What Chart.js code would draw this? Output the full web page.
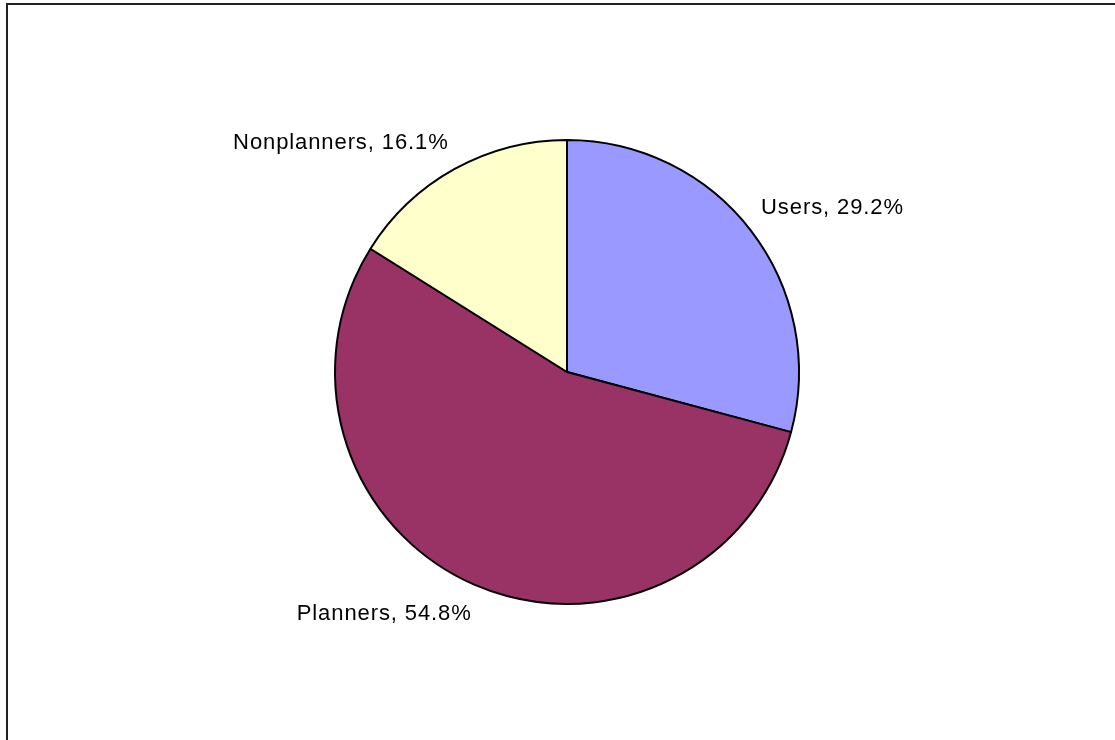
<!DOCTYPE html>
<html>
<head>
<meta charset="utf-8">
<script src="https://cdn.jsdelivr.net/npm/chart.js@4"></script>
<style>
  html, body { margin: 0; padding: 0; background: #fff; }
  #wrap { width: 1115px; height: 740px; position: relative; }
</style>
</head>
<body>
<div id="wrap"><canvas id="chart" width="1115" height="740"></canvas></div>
<script>
// data
const categories = ['Users', 'Planners', 'Nonplanners'];
const shares = [29.2, 54.8, 16.1];
const sliceColors = ['#9999FF', '#993366', '#FFFFCC'];

// outer frame, like the spreadsheet chart area
const framePlugin = {
    id: 'frame',
    beforeDraw(chart) {
        const ctx = chart.ctx;
        ctx.save();
        ctx.fillStyle = '#fff';
        ctx.fillRect(0, 0, chart.width, chart.height);
        ctx.strokeStyle = '#222';
        ctx.lineWidth = 2;
        ctx.strokeRect(7, 4, 1300, 1300);
        ctx.restore();
    }
};

// "Name, xx.x%" labels outside each slice
const sliceLabels = {
    id: 'sliceLabels',
    afterDatasetsDraw(chart, args, opts) {
        const ctx = chart.ctx;
        const meta = chart.getDatasetMeta(0);
        ctx.save();
        ctx.font = '22px "Liberation Sans", Arial, sans-serif';
        ctx.letterSpacing = '0.9px';
        ctx.fillStyle = '#000';
        ctx.textBaseline = 'middle';
        meta.data.forEach((arc, i) => {
            const mid = (arc.startAngle + arc.endAngle) / 2;
            const r = arc.outerRadius + opts.gap;
            const x = arc.x + Math.cos(mid) * r;
            const y = arc.y + Math.sin(mid) * r;
            const text = `${categories[i]}, ${shares[i].toFixed(1)}%`;
            const right = Math.cos(mid) >= 0;
            ctx.textAlign = right ? 'left' : 'right';
            const [dx, dy] = opts.nudge[i] || [0, 0];
            ctx.fillText(text, x + dx, y + dy);
        });
        ctx.restore();
    }
};

new Chart(document.getElementById('chart'), {
    type: 'pie',
    data: {
        labels: categories,
        datasets: [{
            data: shares,
            backgroundColor: sliceColors,
            borderColor: '#000',
            borderWidth: 2
        }]
    },
    options: {
        responsive: false,
        animation: false,
        rotation: 0,
        layout: { padding: { top: 139, bottom: 135, left: 19, right: 0 } },
        plugins: {
            legend: { display: false },
            tooltip: { enabled: false },
            sliceLabels: { gap: 29, nudge: [[-13, -5], [9, 3], [8, -1]] }
        }
    },
    plugins: [framePlugin, sliceLabels]
});
</script>
</body>
</html>
